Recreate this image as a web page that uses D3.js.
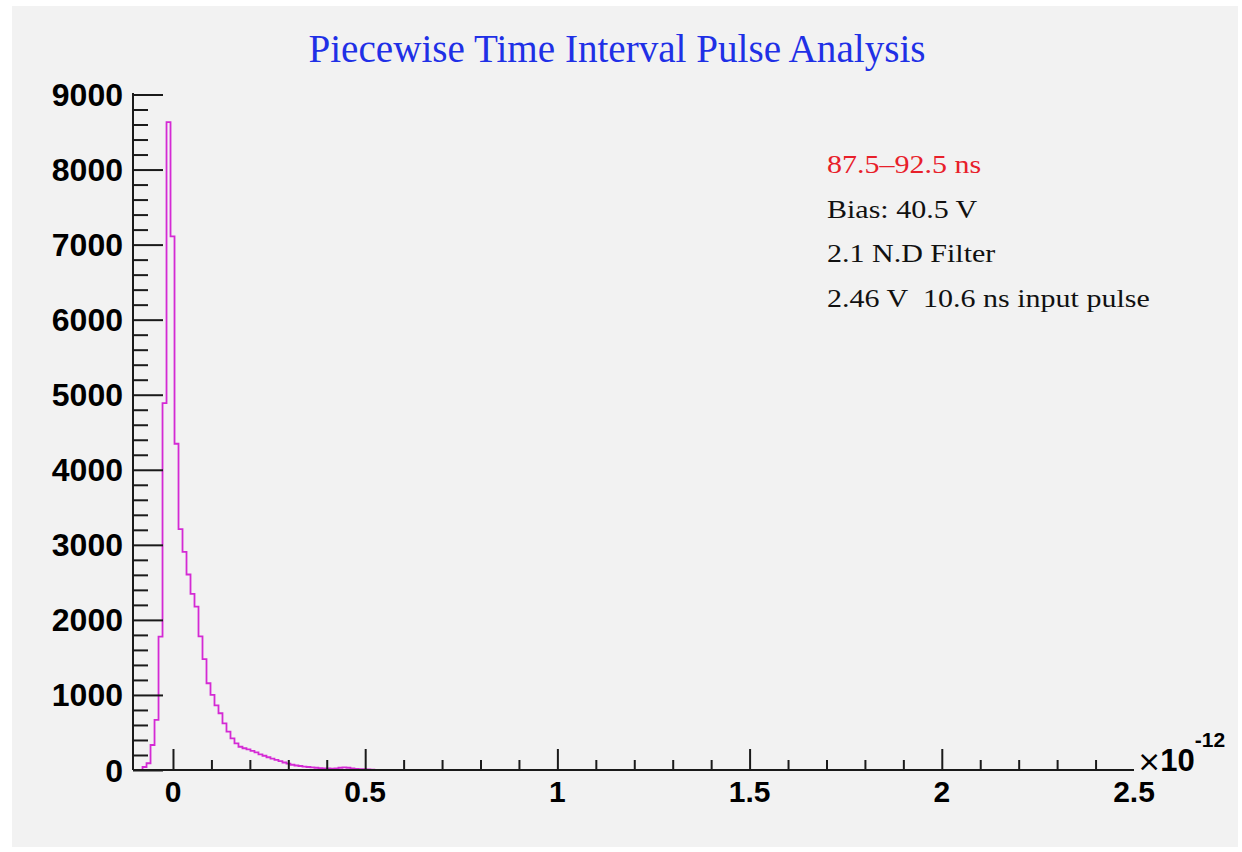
<!DOCTYPE html>
<html>
<head>
<meta charset="utf-8">
<script src="https://cdn.jsdelivr.net/npm/d3@7/dist/d3.min.js"></script>
<style>
  html, body { margin: 0; padding: 0; background: #ffffff; }
  svg { display: block; }
</style>
</head>
<body>
<svg id="chart" width="1242" height="852"></svg>
<script>
// Histogram binning (units of 1e-12)
const binStart = -0.1;
const binWidth = 0.0104;
const counts = [
  0, 0, 40, 90, 333, 667, 1777, 4889, 8631, 7111,
  4347, 3209, 2905, 2605, 2347, 2178, 1780, 1476, 1156, 1000,
  860, 756, 622, 511, 422, 356, 310, 290, 276, 255,
  235, 209, 190, 170, 151, 135, 118, 100, 85, 70,
  60, 53, 46, 40, 36, 30, 25, 22, 20, 18,
  22, 30, 36, 30, 22, 15, 12, 10, 8, 5,
  3, 0
];

// Axis ranges and tick labels
const xDomain = [-0.104, 2.5];
const yDomain = [0, 9020];
const xMajorTicks = [0, 0.5, 1, 1.5, 2, 2.5];
const yMajorTicks = [0, 1000, 2000, 3000, 4000, 5000, 6000, 7000, 8000, 9000];

const titleText = "Piecewise Time Interval Pulse Analysis";
const infoLines = [
  { text: "87.5\u201392.5 ns", color: "#e8202a" },
  { text: "Bias: 40.5 V", color: "#111111" },
  { text: "2.1 N.D Filter", color: "#111111" },
  { text: "2.46 V\u00a0\u00a010.6 ns input pulse", color: "#111111" }
];

const svg = d3.select("#chart");

// Canvas pad
svg.append("rect")
  .attr("x", 12).attr("y", 6)
  .attr("width", 1226).attr("height", 841)
  .attr("fill", "#f2f2f2");

const x = d3.scaleLinear().domain(xDomain).range([133, 1134]);
const y = d3.scaleLinear().domain(yDomain).range([770, 93]);

// Histogram outline as a step path
const pts = [];
pts.push([binStart, 0]);
counts.forEach((c, i) => {
  const lo = binStart + i * binWidth;
  const hi = lo + binWidth;
  pts.push([lo, c]);
  pts.push([hi, c]);
});
pts.push([binStart + counts.length * binWidth, 0]);
pts.push([xDomain[1], 0]);

svg.append("path")
  .datum(pts)
  .attr("fill", "none")
  .attr("stroke", "#d42ad4")
  .attr("stroke-width", 1.8)
  .attr("stroke-linejoin", "miter")
  .attr("d", d3.line().x(d => x(d[0])).y(d => y(d[1])));

// Y axis: ticks pointing into the frame
const yMinor = d3.range(0, 9001, 200).filter(v => v % 1000 !== 0);
const yAxisMajor = d3.axisRight(y).tickValues(yMajorTicks).tickSize(30).tickFormat("");
const yAxisMinor = d3.axisRight(y).tickValues(yMinor).tickSize(15).tickFormat("");
const gyMinor = svg.append("g").attr("transform", "translate(133,0)").call(yAxisMinor);
const gy = svg.append("g").attr("transform", "translate(133,0)").call(yAxisMajor);
[gy, gyMinor].forEach(g => {
  g.selectAll("path.domain").attr("stroke", "#1a1a1a").attr("stroke-width", 2)
    .attr("d", `M0,${y(yDomain[0])}V${y(yDomain[1])}`);
  g.selectAll(".tick line").attr("stroke", "#1a1a1a").attr("stroke-width", 2);
});

svg.append("g").selectAll("text")
  .data(yMajorTicks)
  .join("text")
  .attr("x", 123)
  .attr("y", d => y(d))
  .attr("dy", "0.36em")
  .attr("text-anchor", "end")
  .attr("font-family", "'Liberation Sans', Arial, sans-serif")
  .attr("font-weight", "bold")
  .attr("font-size", 32)
  .attr("fill", "#000")
  .text(d => d);

// X axis: ticks pointing up into the frame
const xMinor = d3.range(-0.1, 2.45, 0.1)
  .map(v => Math.round(v * 10) / 10)
  .filter(v => Math.abs(v * 2 - Math.round(v * 2)) > 1e-6 && v > -0.05);
const xAxisMajor = d3.axisTop(x).tickValues(xMajorTicks.filter(v => v < 2.5)).tickSize(21).tickFormat("");
const xAxisMinor = d3.axisTop(x).tickValues(xMinor).tickSize(10).tickFormat("");
const gxMinor = svg.append("g").attr("transform", "translate(0,770)").call(xAxisMinor);
const gx = svg.append("g").attr("transform", "translate(0,770)").call(xAxisMajor);
[gx, gxMinor].forEach(g => {
  g.selectAll("path.domain").attr("stroke", "#1a1a1a").attr("stroke-width", 2)
    .attr("d", `M${x(xDomain[0])},0H${x(xDomain[1])}`);
  g.selectAll(".tick line").attr("stroke", "#1a1a1a").attr("stroke-width", 2);
});

svg.append("g").selectAll("text")
  .data(xMajorTicks)
  .join("text")
  .attr("x", d => x(d))
  .attr("y", 802)
  .attr("text-anchor", "middle")
  .attr("font-family", "'Liberation Sans', Arial, sans-serif")
  .attr("font-weight", "bold")
  .attr("font-size", 30)
  .attr("fill", "#000")
  .text(d => d);

// Exponent of the x axis
const expo = svg.append("text")
  .attr("x", 1137)
  .attr("y", 771)
  .attr("font-family", "'Liberation Sans', Arial, sans-serif")
  .attr("fill", "#000");
expo.append("tspan").attr("font-size", 29).attr("font-weight", "normal").attr("font-family", "'DejaVu Sans', sans-serif").text("\u00d7");
expo.append("tspan").attr("font-size", 31).attr("font-weight", "bold").attr("dx", -1).text("10");
expo.append("tspan").attr("font-size", 21).attr("font-weight", "bold").attr("dy", -24).text("-12");

// Title
svg.append("text")
  .attr("x", 617)
  .attr("y", 62)
  .attr("text-anchor", "middle")
  .attr("font-family", "'Liberation Serif', 'Times New Roman', serif")
  .attr("font-size", 41)
  .attr("textLength", 617)
  .attr("lengthAdjust", "spacingAndGlyphs")
  .attr("fill", "#1f30e6")
  .text(titleText);

// Run annotation (wide serif lettering)
svg.append("g").selectAll("text")
  .data(infoLines)
  .join("text")
  .attr("transform", (d, i) => `translate(827,${173 + i * 44.5}) scale(1.2,1)`)
  .attr("font-family", "'Liberation Serif', 'Times New Roman', serif")
  .attr("font-size", 25)
  .attr("fill", d => d.color)
  .text(d => d.text);
</script>
</body>
</html>
